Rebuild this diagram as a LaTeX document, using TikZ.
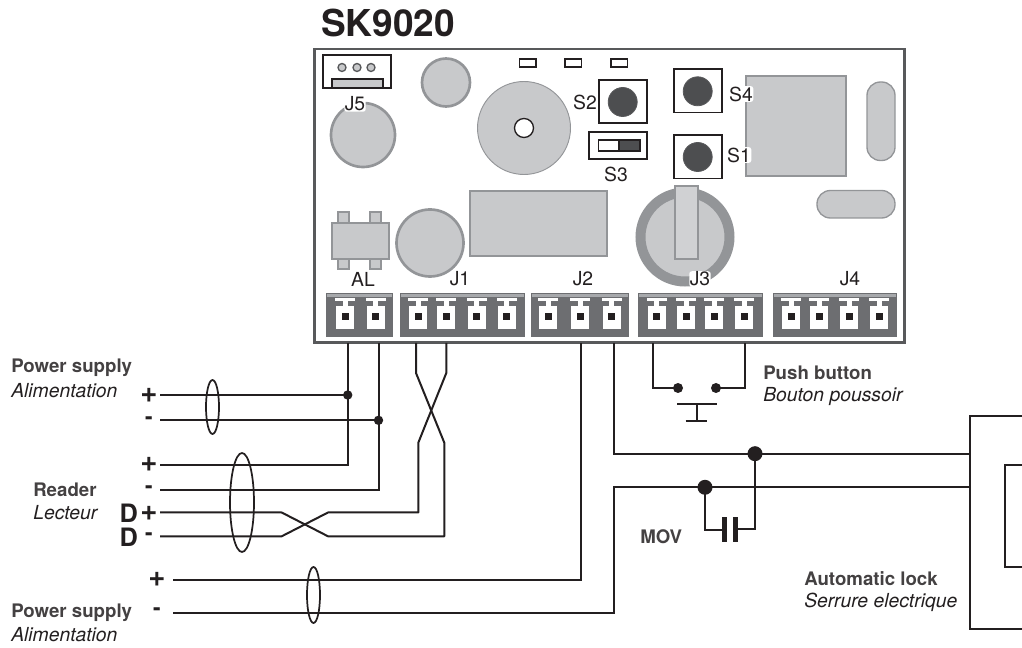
\documentclass[tikz,border=0pt]{standalone}
\usepackage{fontspec}
\setmainfont{TeX Gyre Heros}
\usetikzlibrary{calc}
\definecolor{inkblack}{HTML}{231F20}
\definecolor{boardgrey}{HTML}{58595B}
\definecolor{partfill}{HTML}{C8C9CB}
\definecolor{partedge}{HTML}{939598}
\definecolor{blockgrey}{HTML}{6D6E71}
\definecolor{stripgrey}{HTML}{A7A9AC}
\definecolor{knobgrey}{HTML}{4D4E50}
\tikzset{
  wire/.style={draw=inkblack,line width=1.5pt},
  part/.style={draw=partedge,fill=partfill,line width=1pt},
  roundpart/.style={draw=partedge,fill=partfill,line width=2pt},
  swbox/.style={draw=inkblack,fill=white,line width=1.3pt},
  knob/.style={draw=boardgrey,fill=knobgrey,line width=0.6pt},
  led/.style={draw=inkblack,fill=white,line width=1pt},
  plate/.style={fill=inkblack},
  dot/.style={fill=inkblack},
  bundle/.style={draw=inkblack,line width=1.3pt},
  boardlabel/.style={inner sep=0pt,font=\fontsize{14.5}{16}\selectfont,text=inkblack},
  halolabel/.style={boardlabel,fill=white,inner sep=0.4pt,rounded corners=2pt},
  titletext/.style={inner sep=0pt,anchor=west,font=\bfseries\fontsize{14}{16}\selectfont,text=inkblack!85!white},
  subtext/.style={inner sep=0pt,anchor=west,font=\itshape\fontsize{14.5}{16}\selectfont,text=inkblack},
  polarity/.style={inner sep=0pt,font=\bfseries\fontsize{22}{23}\selectfont,text=inkblack},
  minussign/.style={inner sep=0pt,font=\bfseries\fontsize{17}{18}\selectfont,text=inkblack},
  dataletter/.style={inner sep=0pt,font=\bfseries\fontsize{19}{20}\selectfont,text=inkblack},
}
\newcommand{\terminalblock}[3]{%
  \fill[blockgrey] (#1,293) rectangle (#2,337);
  \fill[stripgrey] (#1+1,294) rectangle (#2-1,297);
  \foreach \tx in {#3} {
    \fill[white] (\tx-10,298) rectangle (\tx+10,301);
    \fill[white] (\tx-2.5,301) rectangle (\tx+2.5,306);
    \fill[white] (\tx-9,306) rectangle (\tx+9,329);
    \fill[inkblack] (\tx-3.5,313) rectangle (\tx+3.5,320);
  }
}
\begin{document}
\begin{tikzpicture}[x=0.75pt,y=-0.75pt]
\useasboundingbox (0,0) rectangle (1022,648);

%board
\node[inner sep=0pt,anchor=base west,font=\bfseries\fontsize{27.8}{28}\selectfont,text=inkblack] (boardname) at (321,37) {SK9020};
\draw[draw=boardgrey,line width=2.2pt] (314.5,49) rectangle (904.5,342.5);

%J5 header
\draw[swbox] (323,55) rectangle (391,88);
\draw[draw=inkblack,fill=partfill,line width=1pt] (332,79) rectangle (383,88);
\foreach \hx in {342,357,371}
  \draw[draw=boardgrey,fill=partfill,line width=1pt] (\hx,67.5) circle (4);

%round parts
\draw[roundpart] (446,82.5) circle (24);
\draw[roundpart] (363,135) circle (32);
\draw[roundpart] (430,243) circle (33.5);
\draw[draw=partedge,fill=partfill,line width=0.7pt] (524,128) circle (46.5);
\draw[draw=inkblack,fill=white,line width=1pt] (524,128) circle (9.5);

%leds
\foreach \lx in {519.5,565,611}
  \draw[led] (\lx,59) rectangle (\lx+16.5,67);

%switches
\draw[swbox] (599,80) rectangle (647,123);
\draw[knob] (622.7,102) circle (14.5);
\draw[swbox] (589,132) rectangle (647,159);
\draw[draw=inkblack,fill=white,line width=0.8pt] (598.5,140) rectangle (619,151);
\draw[draw=inkblack,fill=knobgrey,line width=0.8pt] (619,140) rectangle (640,151);
\draw[swbox] (674,69) rectangle (722,112.5);
\draw[knob] (697.7,91.3) circle (14.5);
\draw[swbox] (674,135) rectangle (722,178.5);
\draw[knob] (697.7,157) circle (14.5);

%relay and capacitors
\draw[part] (746,76) rectangle (846,176);
\draw[part] (470,191) rectangle (607,256);
\draw[part,rounded corners=10pt] (867,82) rectangle (895,160.5);
\draw[part,rounded corners=10pt] (817,190.5) rectangle (895,218);

%AL part
\draw[part] (338,212) rectangle (349,269);
\draw[part] (370,212) rectangle (381,269);
\draw[part] (332,223) rectangle (389,259);

%battery
\draw[draw=partedge,fill=partfill,line width=7.5pt] (685,237) circle (44.5);
\draw[part,fill=partfill!85!white] (675,186) rectangle (698,259);

%connectors
\terminalblock{326}{393}{345,375.7}
\terminalblock{400}{525}{418,446,476.7,506.7}
\terminalblock{531}{629}{548,580,611.7}
\terminalblock{638}{763}{656.7,686,714,744}
\terminalblock{773}{897}{791,819,849,879}

%board labels
\node[halolabel] (labelJ5) at (355,104) {J5};
\node[boardlabel] (labelS2) at (585,102) {S2};
\node[boardlabel] (labelS3) at (616,174) {S3};
\node[halolabel] (labelS4) at (741,94) {S4};
\node[halolabel] (labelS1) at (739,155) {S1};
\node[boardlabel] (labelAL) at (363,279) {AL};
\node[boardlabel] (labelJ1) at (460,279) {J1};
\node[boardlabel] (labelJ2) at (583,279) {J2};
\node[halolabel] (labelJ3) at (700,279) {J3};
\node[boardlabel] (labelJ4) at (850,279) {J4};

%terminal ends and bends
\coordinate (alA) at (347.7,343);
\coordinate (alB) at (378.5,343);
\coordinate (joinA) at (347.7,395);
\coordinate (joinB) at (378.5,420.3);
\coordinate (readerA) at (347.7,465);
\coordinate (readerB) at (378.5,490);
\coordinate (jOneA) at (416,343);
\coordinate (jOneB) at (446.3,343);
\coordinate (jOneC) at (416,373);
\coordinate (jOneD) at (446.3,373);
\coordinate (jOneE) at (418.3,442.7);
\coordinate (jOneF) at (444.3,442.7);
\coordinate (jOneG) at (418.3,512.5);
\coordinate (jOneH) at (444.3,536.3);
\coordinate (swapA) at (328,512.5);
\coordinate (swapB) at (328,536.3);
\coordinate (swapC) at (281.7,536.3);
\coordinate (swapD) at (281.7,512.5);
\coordinate (jTwoA) at (581,343);
\coordinate (jTwoB) at (581,579.7);
\coordinate (jTwoC) at (614,343);
\coordinate (jTwoD) at (614,453.7);
\coordinate (jTwoE) at (614,487.3);
\coordinate (jTwoF) at (614,613.3);
\coordinate (jThreeA) at (653,343);
\coordinate (jThreeB) at (653,388);
\coordinate (jThreeC) at (744.7,343);
\coordinate (jThreeD) at (744.7,388);
\coordinate (pushA) at (678,388);
\coordinate (pushB) at (716,388);
\coordinate (joinC) at (755,453.7);
\coordinate (joinD) at (705,487.3);
\coordinate (movA) at (705,530);
\coordinate (movB) at (755,529);
\coordinate (movC) at (722,530);
\coordinate (movD) at (738,529);
\coordinate (lockA) at (970,453.7);
\coordinate (lockB) at (970,487.3);

%wire starts
\coordinate (powerPlus) at (160,395);
\coordinate (powerMinus) at (160,420.3);
\coordinate (readerPlus) at (160,465);
\coordinate (readerMinus) at (160,490);
\coordinate (dataPlus) at (160,512.5);
\coordinate (dataMinus) at (160,536.3);
\coordinate (lockPlus) at (173,579.7);
\coordinate (lockMinus) at (173,613.3);

%wires
\draw[wire] (alA) -- (readerA) -- (readerPlus);
\draw[wire] (alB) -- (readerB) -- (readerMinus);
\draw[wire] (powerPlus) -- (joinA);
\draw[wire] (powerMinus) -- (joinB);
\draw[wire,line join=round] (jOneA) -- (jOneC) -- (jOneF) -- (jOneH) -- (swapB) -- (swapD) -- (dataPlus);
\draw[wire,line join=round] (jOneB) -- (jOneD) -- (jOneE) -- (jOneG) -- (swapA) -- (swapC) -- (dataMinus);
\draw[wire] (jTwoA) -- (jTwoB) -- (lockPlus);
\draw[wire] (jTwoC) -- (jTwoD) -- (lockA);
\draw[wire] (lockMinus) -- (jTwoF) -- (jTwoE) -- (lockB);
\draw[wire] (jThreeA) -- (jThreeB) -- (pushA);
\draw[wire] (jThreeC) -- (jThreeD) -- (pushB);
\draw[wire] (joinD) -- (movA) -- (movC);
\draw[wire] (joinC) -- (movB) -- (movD);

%dots
\fill[dot] (joinA) circle (4.7);
\fill[dot] (joinB) circle (4.7);
\fill[dot] (joinC) circle (7.5);
\fill[dot] (joinD) circle (7.5);
\fill[dot] (pushA) circle (5);
\fill[dot] (pushB) circle (5);

%push button
\coordinate (barTop) at (696.5,404);
\coordinate (barBottom) at (696.5,420.7);
\draw[wire] (barTop) -- (barBottom);
\draw[wire] (677,404) -- (717,404);
\draw[wire] (685.7,420.7) -- (707,420.7);

%MOV plates
\fill[plate] (721.7,517) rectangle (727,542);
\fill[plate] (732.7,517) rectangle (738,542);

%cable bundles
\draw[bundle] (212.5,407) ellipse (6.5 and 27);
\draw[bundle] (242,502.5) ellipse (12 and 49.5);
\draw[bundle] (313.5,595) ellipse (6.5 and 28);

%lock
\draw[wire,line width=1.7pt] (1022,416) -- (970,416) -- (970,628.7) -- (1022,628.7);
\draw[wire,line width=1.7pt] (1022,465) -- (1005,465) -- (1005,566.7) -- (1022,566.7);

%texts
\node[titletext] (powerA) at (11,368) {Power supply};
\node[subtext] (powerAfr) at (11,391) {Alimentation};
\node[titletext] (reader) at (33,490) {Reader};
\node[subtext] (readerFr) at (33,513) {Lecteur};
\node[titletext] (powerB) at (11,612.7) {Power supply};
\node[subtext] (powerBfr) at (11,635) {Alimentation};
\node[titletext] (push) at (763,373) {Push button};
\node[subtext] (pushFr) at (763,396.7) {Bouton poussoir};
\node[titletext] (mov) at (640,537) {MOV};
\node[titletext] (lock) at (804,579) {Automatic lock};
\node[subtext] (lockFr) at (804,602) {Serrure electrique};

\node[polarity] (signA) at (149,395) {+};
\node[minussign] (signB) at (149,421) {-};
\node[polarity] (signC) at (149,464) {+};
\node[minussign] (signD) at (149,490) {-};
\node[polarity] (signE) at (149,513) {+};
\node[minussign] (signF) at (149,537) {-};
\node[polarity] (signG) at (157,579.5) {+};
\node[minussign] (signH) at (157,612) {-};
\node[dataletter] (dataA) at (128.7,513) {D};
\node[dataletter] (dataB) at (128.7,537) {D};
\end{tikzpicture}
\end{document}
